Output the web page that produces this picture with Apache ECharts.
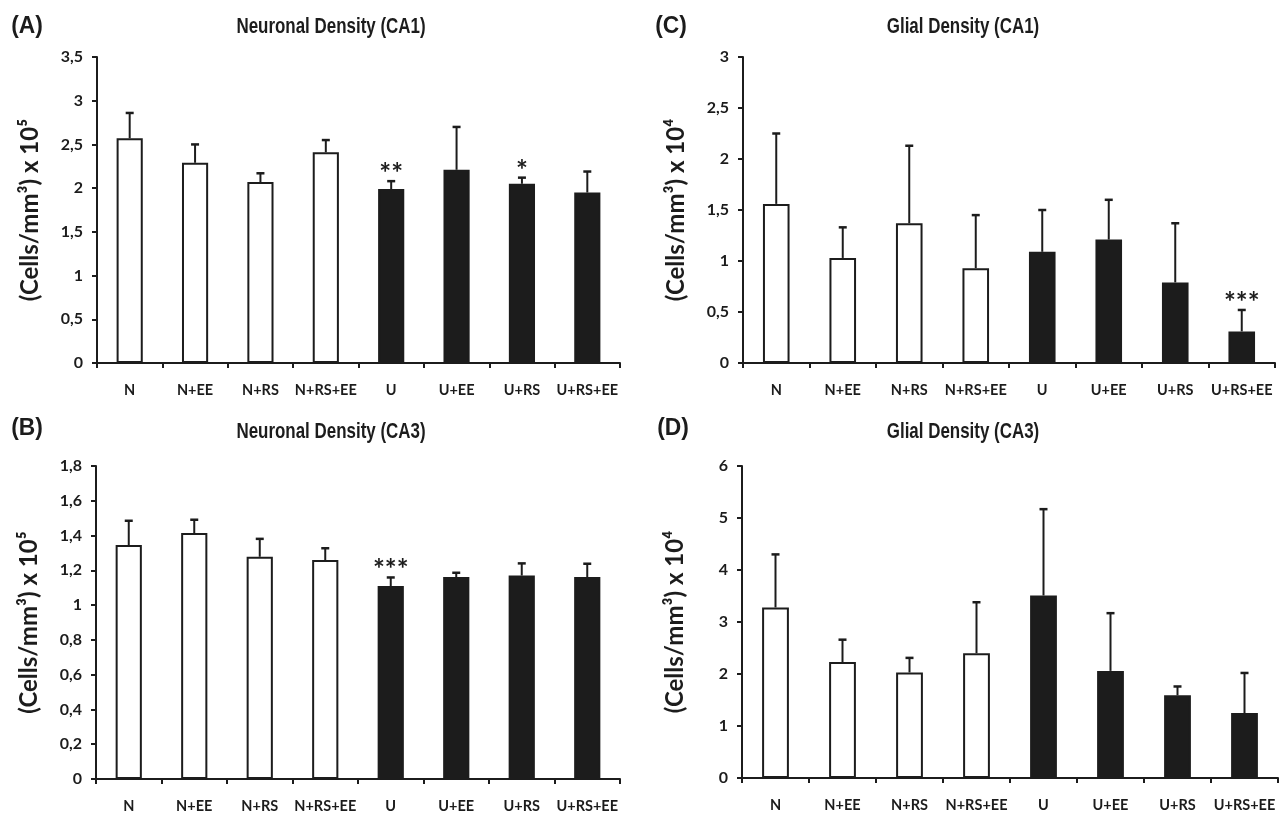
<!DOCTYPE html>
<html><head><meta charset="utf-8">
<script src="https://cdn.jsdelivr.net/npm/echarts@6/dist/echarts.min.js"></script>
<style>html,body{margin:0;padding:0;background:#fff}#c{width:1280px;height:816px}</style>
</head><body><div id="c"></div>
<script>
const categories = ['N', 'N+EE', 'N+RS', 'N+RS+EE', 'U', 'U+EE', 'U+RS', 'U+RS+EE'];

// Panel A: Neuronal Density (CA1), x10^5
const meanA = [2.57, 2.29, 2.07, 2.41, 1.99, 2.21, 2.05, 1.95];
const errA  = [0.29, 0.21, 0.10, 0.14, 0.09, 0.49, 0.07, 0.24];
const starsA = ['', '', '', '', '**', '', '*', ''];

// Panel B: Neuronal Density (CA3), x10^5
const meanB = [1.345, 1.414, 1.278, 1.259, 1.110, 1.161, 1.170, 1.161];
const errB  = [0.140, 0.077, 0.103, 0.068, 0.049, 0.025, 0.070, 0.077];
const starsB = ['', '', '', '', '***', '', '', ''];

// Panel C: Glial Density (CA1), x10^4
const meanC = [1.56, 1.03, 1.37, 0.93, 1.09, 1.21, 0.79, 0.31];
const errC  = [0.69, 0.30, 0.76, 0.52, 0.41, 0.39, 0.58, 0.21];
const starsC = ['', '', '', '', '', '', '', '***'];

// Panel D: Glial Density (CA3), x10^4
const meanD = [3.28, 2.23, 2.03, 2.40, 3.51, 2.06, 1.59, 1.25];
const errD  = [1.02, 0.43, 0.28, 0.98, 1.66, 1.11, 0.17, 0.77];
const starsD = ['', '', '', '', '', '', '', ''];

const titles = ['Neuronal Density (CA1)', 'Neuronal Density (CA3)', 'Glial Density (CA1)', 'Glial Density (CA3)'];
const letters = ['(A)', '(B)', '(C)', '(D)'];
const yNames = ['(Cells/mm³) x 10⁵', '(Cells/mm³) x 10⁵', '(Cells/mm³) x 10⁴', '(Cells/mm³) x 10⁴'];
const yMax = [3.5, 1.8, 3, 6];
const yInterval = [0.5, 0.2, 0.5, 1];

const means = [meanA, meanB, meanC, meanD];
const errs = [errA, errB, errC, errD];
const stars = [starsA, starsB, starsC, starsD];

const grids = [
  {left: 97, right: 660, top: 57, bottom: 453},
  {left: 96, right: 660, top: 466, bottom: 37},
  {left: 743, right: 5, top: 57, bottom: 453},
  {left: 742, right: 2, top: 466, bottom: 38}
];
const titlePos = [[331, 27], [331, 432], [963, 27], [963, 432]];
const letterPos = [[27, 26], [27, 428], [671, 26], [673, 428]];

const INK = '#1c1c1c';
const LBL = 'Lato, "Open Sans", sans-serif';

const fmt = v => String(+v.toFixed(1)).replace('.', ',');

const xAxes = [], yAxes = [], series = [], graphics = [];
for (let i = 0; i < 4; i++) {
  xAxes.push({
    gridIndex: i, type: 'category', data: categories,
    axisLine: {lineStyle: {color: INK, width: 2}},
    axisTick: {show: true, length: 5, lineStyle: {color: INK, width: 2}},
    axisLabel: {color: INK, fontFamily: LBL, fontWeight: 'bold', fontSize: 14.5, margin: 20, interval: 0}
  });
  yAxes.push({
    gridIndex: i, type: 'value', min: 0, max: yMax[i], interval: yInterval[i],
    axisLine: {show: true, lineStyle: {color: INK, width: 2}},
    axisTick: {show: true, length: 5, lineStyle: {color: INK, width: 2}},
    splitLine: {show: false},
    axisLabel: {color: INK, fontFamily: LBL, fontWeight: 'bold', fontSize: 16, margin: 14, formatter: fmt},
    name: yNames[i], nameLocation: 'middle', nameRotate: 90, nameGap: 55,
    nameTextStyle: {color: INK, fontFamily: LBL, fontWeight: 'bold', fontSize: 24}
  });
  const m = means[i];
  series.push({
    type: 'bar', xAxisIndex: i, yAxisIndex: i, barWidth: '40%',
    data: m.map((v, k) => ({
      value: v,
      itemStyle: k < 4 ? {color: '#ffffff', borderColor: INK, borderWidth: 2}
                       : {color: INK, borderColor: INK, borderWidth: 2}
    })),
    z: 2
  });
  const st = stars[i];
  series.push({
    type: 'custom', xAxisIndex: i, yAxisIndex: i, z: 3,
    data: m.map((v, k) => [k, v, v + errs[i][k]]),
    renderItem: function (params, api) {
      const x = api.value(0), lo = api.value(1), hi = api.value(2);
      const p0 = api.coord([x, lo]);
      const p1 = api.coord([x, hi]);
      const cap = 4;
      const children = [
        {type: 'line', shape: {x1: p0[0], y1: p0[1], x2: p1[0], y2: p1[1]}, style: {stroke: INK, lineWidth: 2}},
        {type: 'line', shape: {x1: p1[0] - cap, y1: p1[1], x2: p1[0] + cap, y2: p1[1]}, style: {stroke: INK, lineWidth: 2.5}}
      ];
      const s = st[params.dataIndex];
      if (s) {
        children.push({type: 'text', x: p1[0], y: p1[1] - 7,
          style: {text: s, fill: INK, font: 'bold 28px ' + LBL, align: 'center', verticalAlign: 'middle'}});
      }
      return {type: 'group', children: children};
    }
  });
  graphics.push({type: 'text', x: titlePos[i][0], y: titlePos[i][1], scaleX: 0.77,
    style: {text: titles[i], fill: INK, font: 'bold 22px "Liberation Sans", Arial, sans-serif', align: 'center', verticalAlign: 'middle'}});
  graphics.push({type: 'text', x: letterPos[i][0], y: letterPos[i][1], scaleX: 0.95,
    style: {text: letters[i], fill: INK, font: 'bold 24px "Liberation Sans", Arial, sans-serif', align: 'center', verticalAlign: 'middle'}});
}

const chart = echarts.init(document.getElementById('c'), null, {renderer: 'canvas'});
chart.setOption({
  backgroundColor: '#ffffff',
  animation: false,
  grid: grids,
  xAxis: xAxes,
  yAxis: yAxes,
  series: series,
  graphic: graphics
});
</script>
</body></html>
